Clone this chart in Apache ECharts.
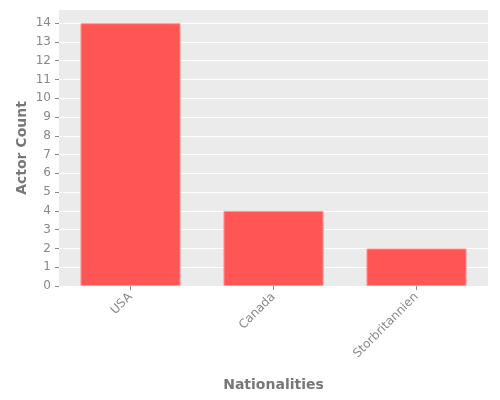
<!DOCTYPE html>
<html>
<head>
<meta charset="utf-8">
<script src="https://cdn.jsdelivr.net/npm/echarts@6/dist/echarts.min.js"></script>
<style>
    html, body { margin: 0; padding: 0; background: #fff; }
    #chart { width: 500px; height: 400px; }
</style>
</head>
<body>
<div id="chart"></div>
<script>
// 数据
const nationalities = ['USA', 'Canada', 'Storbritannien'];
const actorCounts = [14, 4, 2];

let myCharts = echarts.init(document.querySelector('#chart'));
myCharts.setOption({
    animation: false,
    textStyle: { fontFamily: 'DejaVu Sans' },
    grid: {
        left: 59, right: 12, top: 10, bottom: 114,
        show: true, backgroundColor: '#ebebeb', borderWidth: 0
    },
    xAxis: {
        type: 'category',
        data: nationalities,
        name: 'Nationalities',
        nameLocation: 'middle',
        nameGap: 92,
        nameMoveOverlap: false,
        nameTextStyle: { color: '#777', fontSize: 14, fontWeight: 'bold' },
        axisLine: { show: false },
        axisTick: { show: true, alignWithLabel: true, length: 4, lineStyle: { color: '#888' } },
        axisLabel: { rotate: 45, color: '#888', fontSize: 12, margin: 9 },
        splitLine: { show: false }
    },
    yAxis: {
        type: 'value',
        min: 0,
        max: 14.7,
        interval: 1,
        name: 'Actor Count',
        nameLocation: 'middle',
        nameGap: 30,
        nameMoveOverlap: false,
        nameTextStyle: { color: '#777', fontSize: 14, fontWeight: 'bold' },
        axisLine: { show: false },
        axisTick: { show: true, length: 4, lineStyle: { color: '#888' } },
        axisLabel: { color: '#888', fontSize: 12, margin: 8, showMaxLabel: false },
        splitLine: { show: true, showMaxLine: false, lineStyle: { color: '#fff', width: 1 } }
    },
    series: [{
        type: 'bar',
        data: actorCounts,
        barWidth: '70%',
        itemStyle: { color: '#ff5555', borderColor: '#ff9a9a', borderWidth: 1 }
    }]
});
</script>
</body>
</html>
